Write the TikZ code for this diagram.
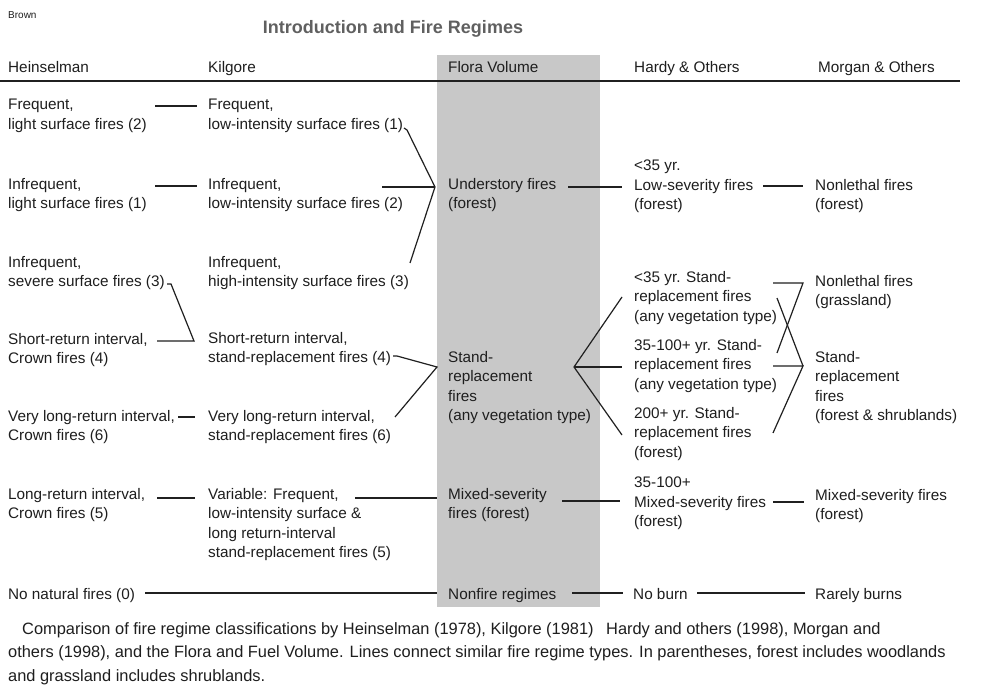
\documentclass[tikz,border=0pt]{standalone}
\usepackage{fontspec}
\setmainfont{Liberation Sans}
\definecolor{txtc}{HTML}{1E1E1E}
\definecolor{band}{HTML}{C8C8C8}
\definecolor{linec}{HTML}{202020}
\definecolor{titlec}{HTML}{606060}
\begin{document}
\begin{tikzpicture}[x=1pt,y=-1pt,
  txt/.style={anchor=north west, inner sep=0pt, align=left, text=txtc,
    font=\fontsize{15.3}{19.5}\selectfont, execute at begin node=\strut, yshift=7pt},
  captxt/.style={anchor=north west, inner sep=0pt, align=left, text=txtc,
    font=\fontsize{16.4}{23.5}\selectfont, execute at begin node=\strut, yshift=12pt},
  conn/.style={draw=linec, line width=1.2pt},
]
\useasboundingbox (0,0) rectangle (991,700);
\fill[white] (0,0) rectangle (991,700);
\fill[band] (437,55) rectangle (600,607);

% top labels
\node[anchor=west, inner sep=0pt, text=txtc, font=\fontsize{10}{12}\selectfont] (brown) at (8,15) {Brown};
\node[inner sep=0pt, text=titlec, font=\fontsize{18}{21}\bfseries] (title) at (393,29) {Introduction and Fire Regimes};

% headers
\node[txt] (hhein) at (8,66) {Heinselman};
\node[txt] (hkil) at (208,66) {Kilgore};
\node[txt] (hflora) at (448,66) {Flora Volume};
\node[txt] (hhardy) at (634,66) {Hardy \& Others};
\node[txt] (hmorgan) at (818,66) {Morgan \& Others};
\coordinate (ruleL) at (0,81);
\coordinate (ruleR) at (960,81);
\draw[draw=linec, line width=1.4pt] (ruleL) -- (ruleR);

% Heinselman
\node[txt] (h1) at (8,106) {Frequent,\\light surface fires (2)};
\node[txt] (h2) at (8,185) {Infrequent,\\light surface fires (1)};
\node[txt] (h3) at (8,263) {Infrequent,\\severe surface fires (3)};
\node[txt] (h4) at (8,340) {Short-return interval,\\Crown fires (4)};
\node[txt] (h6) at (8,417) {Very long-return interval,\\Crown fires (6)};
\node[txt] (h5) at (8,495) {Long-return interval,\\Crown fires (5)};
\node[txt] (h0) at (8,593) {No natural fires (0)};

% Kilgore
\node[txt] (k1) at (208,106) {Frequent,\\low-intensity surface fires (1)};
\node[txt] (k2) at (208,185) {Infrequent,\\low-intensity surface fires (2)};
\node[txt] (k3) at (208,263) {Infrequent,\\high-intensity surface fires (3)};
\node[txt] (k4) at (208,339) {Short-return interval,\\stand-replacement fires (4)};
\node[txt] (k6) at (208,417) {Very long-return interval,\\stand-replacement fires (6)};
\node[txt] (k5) at (208,495) {Variable: Frequent,\\low-intensity surface \&\\long return-interval\\stand-replacement fires (5)};

% Flora
\node[txt] (f1) at (448,185) {Understory fires\\(forest)};
\node[txt] (f2) at (448,358) {Stand-\\replacement\\fires\\(any vegetation type)};
\node[txt] (f3) at (448,495) {Mixed-severity\\fires (forest)};
\node[txt] (f4) at (448,593) {Nonfire regimes};

% Hardy
\node[txt] (a1) at (634,167) {<35 yr.\\Low-severity fires\\(forest)};
\node[txt] (a2) at (634,278) {<35 yr. Stand-\\replacement fires\\(any vegetation type)};
\node[txt] (a3) at (634,346) {35-100+ yr. Stand-\\replacement fires\\(any vegetation type)};
\node[txt] (a4) at (634,414) {200+ yr. Stand-\\replacement fires\\(forest)};
\node[txt] (a5) at (634,484) {35-100+\\Mixed-severity fires\\(forest)};
\node[txt] (a6) at (633,593) {No burn};

% Morgan
\node[txt] (m1) at (815,186) {Nonlethal fires\\(forest)};
\node[txt] (m2) at (815,282) {Nonlethal fires\\(grassland)};
\node[txt] (m3) at (815,358) {Stand-\\replacement\\fires\\(forest \& shrublands)};
\node[txt] (m4) at (815,496) {Mixed-severity fires\\(forest)};
\node[txt] (m5) at (815,593) {Rarely burns};

% caption
\node[captxt] (cap) at (8,634) {\hspace*{14pt}Comparison of fire regime classifications by Heinselman (1978), Kilgore (1981)\hspace{8pt} Hardy and others (1998), Morgan and\\others (1998), and the Flora and Fuel Volume. Lines connect similar fire regime types. In parentheses, forest includes woodlands\\and grassland includes shrublands.};

% ---- connector end points ----
\coordinate (c1a) at (155,106); \coordinate (c1b) at (197,106);
\coordinate (c2a) at (155,186); \coordinate (c2b) at (197,186);
\coordinate (c3t) at (167,284); \coordinate (c3a) at (171,284);
\coordinate (c4v) at (194,341); \coordinate (c4a) at (157,341);
\coordinate (c6a) at (178,417); \coordinate (c6b) at (195,417);
\coordinate (c5a) at (157,498); \coordinate (c5b) at (195,498);
\coordinate (c0a) at (145,593); \coordinate (c0b) at (437,593);

\coordinate (vU) at (435,187);
\coordinate (k1e) at (407,130); \coordinate (k1t) at (404,128);
\coordinate (k2e) at (382,187);
\coordinate (k3e) at (410,263);

\coordinate (vS) at (437,367);
\coordinate (k4e) at (397,356); \coordinate (k4t) at (393,356);
\coordinate (k6e) at (395,417);
\coordinate (k5e) at (355,498); \coordinate (k5f) at (437,498);

\coordinate (f1e) at (568,187); \coordinate (a1w) at (622,187);
\coordinate (vF) at (574,367);
\coordinate (a2w) at (622,297); \coordinate (a3w) at (622,367); \coordinate (a4w) at (622,435);
\coordinate (f3e) at (562,501); \coordinate (a5w) at (620,501);
\coordinate (f4e) at (572,593); \coordinate (a6w) at (623,593);

\coordinate (a1e) at (763,186); \coordinate (m1w) at (803,186);
\coordinate (a2e) at (773,283); \coordinate (vM1) at (803,283);
\coordinate (a3t) at (777,353);
\coordinate (a2b) at (777,298);
\coordinate (a3e) at (773,366); \coordinate (vM2) at (803,366);
\coordinate (a4e) at (773,433);
\coordinate (a5e) at (773,502); \coordinate (m4w) at (804,502);
\coordinate (a6e) at (697,593); \coordinate (m5w) at (805,593);

% ---- connectors ----
\draw[conn] (c1a) -- (c1b);
\draw[conn] (c2a) -- (c2b);
\draw[conn] (c3t) -- (c3a) -- (c4v) -- (c4a);
\draw[conn] (c6a) -- (c6b);
\draw[conn] (c5a) -- (c5b);
\draw[conn] (c0a) -- (c0b);

\draw[conn] (k1t) -- (k1e) -- (vU) -- (k3e);
\draw[conn] (k2e) -- (vU);
\draw[conn] (k4t) -- (k4e) -- (vS) -- (k6e);
\draw[conn] (k5e) -- (k5f);

\draw[conn] (f1e) -- (a1w);
\draw[conn] (a2w) -- (vF) -- (a4w);
\draw[conn] (vF) -- (a3w);
\draw[conn] (f3e) -- (a5w);
\draw[conn] (f4e) -- (a6w);

\draw[conn] (a1e) -- (m1w);
\draw[conn] (a2e) -- (vM1) -- (a3t);
\draw[conn] (a2b) -- (vM2);
\draw[conn] (a3e) -- (vM2) -- (a4e);
\draw[conn] (a5e) -- (m4w);
\draw[conn] (a6e) -- (m5w);
\end{tikzpicture}
\end{document}
